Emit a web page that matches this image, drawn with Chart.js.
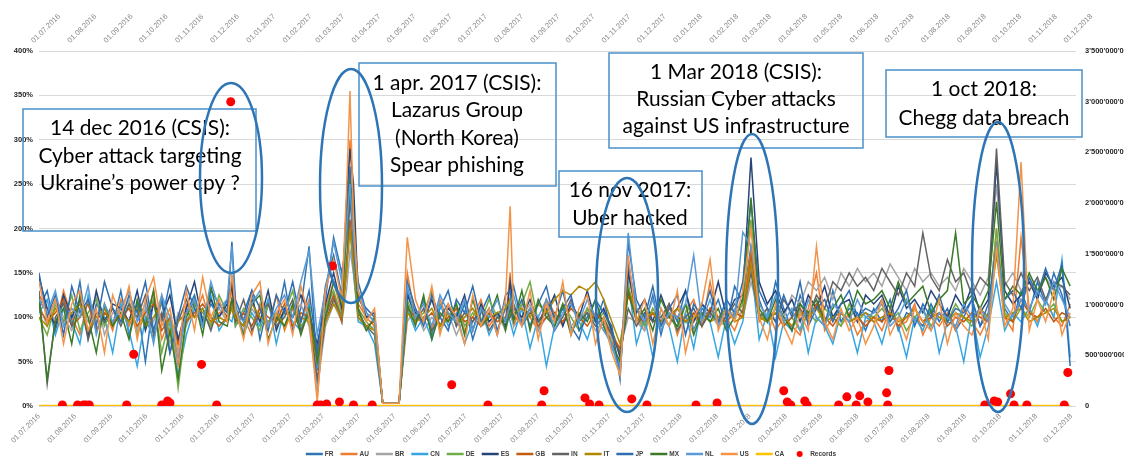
<!DOCTYPE html>
<html>
<head>
<meta charset="utf-8">
<script src="https://cdn.jsdelivr.net/npm/chart.js@4.4.1/dist/chart.umd.min.js"></script>
<style>
  html, body { margin: 0; padding: 0; background: #fff; }
  #wrap { width: 1124px; height: 462px; }
</style>
</head>
<body>
<div id="wrap"><canvas id="chart" width="1124" height="462"></canvas></div>
<script>
// days after 01.07.2016 (weekly readings + a few extra spike days)
const days = [
  0, 7, 14, 21, 28, 35, 42, 49, 56, 63,
  70, 77, 84, 91, 98, 105, 112, 119, 126, 133, 140, 147, 154,
  161, 165, 168, 175, 182, 189, 196, 203, 210, 217, 224, 231,
  238, 245, 252, 259, 263, 266, 269, 273, 280, 287, 294, 301, 308,
  315, 322, 329, 336, 343, 350, 357, 364, 371, 378, 385, 392, 399,
  403, 406, 413, 420, 427, 434, 441, 448, 455, 462, 469, 476, 483, 490, 497,
  504, 511, 518, 525, 532, 539, 546, 553, 560, 567, 574, 581, 588, 595, 602,
  609, 616, 623, 630, 637, 644, 651, 658, 665, 672, 679, 686, 693, 700, 707,
  714, 721, 728, 735, 742, 749, 756, 763, 770, 777, 784, 791, 798, 805, 812,
  819, 826, 833, 840, 847, 854, 861, 868, 875, 882
];

const tickLabels = [
  '01.07.2016', '01.08.2016', '01.09.2016', '01.10.2016', '01.11.2016', '01.12.2016',
  '01.01.2017', '01.02.2017', '01.03.2017', '01.04.2017', '01.05.2017', '01.06.2017',
  '01.07.2017', '01.08.2017', '01.09.2017', '01.10.2017', '01.11.2017', '01.12.2017',
  '01.01.2018', '01.02.2018', '01.03.2018', '01.04.2018', '01.05.2018', '01.06.2018',
  '01.07.2018', '01.08.2018', '01.09.2018', '01.10.2018', '01.11.2018', '01.12.2018'
];

// values in % of normal
const FR = [
  110, 130, 85, 120, 95, 140, 75, 115, 100, 90,
  130, 80, 115, 50, 120, 95, 140, 70, 105, 125, 90, 115, 100,
  120, 140, 90, 105, 130, 75, 115, 95, 140, 85, 110, 180,
  40, 120, 190, 150, 185, 240, 200, 140, 105, 95, 3, 3, 3,
  130, 95, 120, 80, 110, 130, 90, 115, 75, 105, 125, 85, 110,
  120, 135, 95, 110, 85, 120, 100, 130, 90, 75, 110, 95, 120, 80, 40,
  160, 110, 90, 125, 80, 115, 95, 130, 85, 110, 100, 120, 90, 135, 115,
  180, 120, 95, 140, 110, 85, 125, 100, 115, 90, 130, 95, 110, 105, 85,
  110, 95, 120, 85, 105, 100, 90, 115, 95, 110, 85, 100, 120, 90, 105,
  180, 110, 95, 130, 105, 140, 115, 150, 125, 90
];
const AU = [
  125, 110, 90, 130, 100, 80, 120, 95, 110, 85,
  120, 90, 110, 95, 130, 75, 100, 45, 115, 100, 125, 90, 105,
  110, 130, 95, 100, 80, 115, 90, 125, 85, 110, 95, 120,
  10, 110, 140, 105, 200, 300, 230, 115, 100, 90, 3, 3, 3,
  150, 100, 115, 85, 120, 95, 110, 85, 100, 120, 90, 105, 95,
  150, 90, 115, 100, 85, 120, 105, 90, 115, 95, 110, 100, 85, 75, 45,
  150, 100, 85, 110, 95, 115, 80, 105, 120, 90, 140, 95, 100, 85, 110,
  175, 95, 110, 85, 100, 90, 80, 110, 150, 85, 100, 90, 105, 80, 95,
  100, 85, 110, 90, 95, 115, 80, 100, 90, 105, 85, 110, 95, 80, 100,
  200, 100, 85, 190, 110, 95, 120, 100, 90, 115
];
const BR = [
  115, 90, 120, 100, 85, 110, 95, 125, 80, 105,
  100, 120, 85, 110, 95, 125, 70, 105, 90, 115, 100, 95, 110,
  95, 115, 100, 85, 110, 95, 120, 90, 105, 100, 115, 90,
  20, 90, 115, 95, 130, 175, 150, 100, 85, 90, 3, 3, 3,
  95, 110, 85, 100, 90, 105, 80, 100, 110, 90, 95, 105, 85,
  105, 90, 100, 115, 85, 100, 95, 110, 90, 100, 105, 85, 95, 75, 65,
  100, 95, 85, 105, 100, 90, 110, 95, 85, 100, 105, 90, 95, 110, 100,
  140, 105, 95, 110, 100, 125, 115, 140, 130, 145, 120, 150, 135, 155, 140,
  150, 135, 160, 145, 130, 155, 140, 150, 135, 145, 130, 155, 140, 125, 145,
  250, 135, 150, 130, 140, 125, 145, 130, 135, 120
];
const CN = [
  105, 120, 80, 110, 95, 70, 125, 85, 100, 60,
  115, 85, 45, 100, 75, 120, 90, 35, 80, 110, 95, 125, 85,
  100, 95, 115, 80, 105, 90, 120, 70, 110, 95, 85, 115,
  45, 105, 125, 95, 160, 200, 150, 95, 90, 70, 3, 3, 3,
  110, 85, 100, 75, 115, 90, 105, 70, 95, 110, 80, 100, 115,
  95, 80, 110, 65, 100, 45, 90, 110, 85, 95, 75, 105, 90, 65, 45,
  140, 70, 100, 55, 110, 90, 50, 105, 65, 115, 95, 55, 100, 70, 95,
  160, 75, 105, 55, 95, 85, 110, 60, 100, 90, 70, 105, 95, 60, 100,
  95, 70, 105, 90, 55, 100, 85, 110, 60, 95, 90, 50, 105, 55, 90,
  140, 85, 105, 95, 110, 90, 120, 100, 165, 55
];
const DE = [
  100, 80, 115, 95, 125, 85, 105, 120, 90, 110,
  95, 115, 80, 105, 120, 60, 100, 20, 95, 115, 105, 90, 125,
  105, 120, 90, 110, 100, 85, 115, 95, 105, 130, 90, 100,
  55, 110, 130, 100, 190, 260, 200, 110, 95, 85, 3, 3, 3,
  120, 95, 105, 130, 85, 100, 115, 90, 105, 95, 120, 100, 90,
  120, 100, 115, 140, 95, 105, 90, 115, 100, 85, 110, 95, 105, 85, 60,
  135, 100, 90, 110, 95, 105, 85, 115, 100, 90, 110, 95, 105, 100, 115,
  210, 105, 95, 110, 90, 100, 85, 105, 95, 110, 100, 90, 115, 95, 105,
  100, 110, 95, 105, 85, 100, 110, 90, 105, 95, 115, 100, 90, 105, 95,
  200, 105, 95, 110, 100, 120, 105, 115, 95, 100
];
const ES = [
  145, 110, 90, 125, 100, 120, 80, 130, 95, 115,
  110, 95, 130, 85, 115, 100, 125, 75, 110, 140, 95, 120, 100,
  115, 135, 100, 90, 120, 95, 130, 85, 110, 100, 125, 105,
  70, 115, 150, 110, 230, 290, 250, 125, 100, 105, 3, 3, 3,
  125, 105, 95, 120, 90, 110, 100, 125, 85, 115, 95, 105, 90,
  140, 110, 100, 120, 95, 105, 125, 90, 115, 100, 130, 95, 110, 85, 55,
  150, 105, 120, 95, 125, 100, 110, 130, 95, 115, 105, 140, 100, 120, 125,
  280, 140, 115, 130, 105, 120, 95, 125, 110, 135, 100, 115, 120, 95, 125,
  115, 125, 100, 135, 110, 120, 105, 130, 115, 100, 125, 110, 135, 105, 120,
  275, 130, 115, 125, 140, 120, 150, 135, 145, 110
];
const GB = [
  110, 95, 105, 120, 90, 100, 115, 85, 105, 95,
  100, 110, 90, 105, 115, 85, 100, 70, 95, 105, 115, 100, 90,
  100, 120, 95, 105, 90, 110, 100, 95, 115, 90, 105, 100,
  60, 100, 125, 95, 160, 210, 170, 100, 90, 95, 3, 3, 3,
  110, 100, 95, 105, 90, 100, 110, 95, 100, 90, 105, 95, 100,
  115, 100, 95, 110, 90, 100, 105, 95, 110, 100, 90, 105, 95, 80, 65,
  125, 100, 95, 105, 90, 110, 100, 95, 105, 90, 110, 100, 95, 105, 100,
  170, 100, 95, 105, 90, 100, 110, 95, 115, 100, 90, 105, 95, 100, 90,
  100, 95, 105, 90, 100, 110, 95, 100, 105, 90, 100, 95, 105, 100, 95,
  180, 100, 95, 120, 105, 100, 110, 95, 105, 100
];
const IN = [
  130, 25, 100, 115, 90, 120, 75, 105, 95, 110,
  90, 115, 100, 125, 80, 105, 60, 95, 120, 100, 110, 85, 115,
  100, 110, 95, 120, 85, 105, 115, 90, 100, 120, 85, 105,
  30, 95, 120, 100, 150, 235, 180, 105, 90, 80, 3, 3, 3,
  105, 95, 110, 85, 100, 115, 90, 105, 95, 110, 85, 100, 95,
  100, 115, 90, 105, 95, 110, 85, 100, 120, 95, 105, 90, 100, 80, 60,
  110, 90, 105, 95, 100, 115, 85, 100, 110, 90, 105, 95, 100, 115, 105,
  150, 100, 110, 95, 120, 105, 115, 100, 125, 110, 140, 130, 150, 135, 145,
  130, 155, 140, 125, 150, 135, 195, 145, 130, 165, 140, 150, 125, 145, 135,
  290, 140, 125, 150, 130, 145, 120, 140, 135, 125
];
const IT = [
  100, 90, 110, 95, 105, 115, 85, 100, 110, 90,
  105, 95, 110, 90, 100, 115, 80, 95, 105, 100, 110, 95, 100,
  95, 110, 100, 90, 115, 100, 95, 105, 90, 110, 100, 95,
  50, 95, 115, 100, 150, 200, 160, 100, 90, 85, 3, 3, 3,
  105, 95, 100, 110, 90, 105, 95, 100, 110, 95, 100, 105, 110,
  120, 105, 110, 100, 115, 105, 120, 130, 125, 135, 130, 140, 120, 95, 70,
  130, 110, 100, 105, 95, 100, 110, 95, 100, 105, 95, 100, 110, 95, 100,
  160, 100, 95, 105, 100, 90, 105, 100, 110, 95, 100, 105, 95, 100, 105,
  95, 100, 105, 95, 100, 110, 95, 105, 100, 95, 105, 100, 95, 110, 100,
  170, 100, 105, 110, 95, 100, 105, 110, 95, 100
];
const JP = [
  150, 100, 125, 80, 135, 105, 120, 90, 140, 110,
  95, 125, 105, 140, 85, 120, 60, 100, 135, 110, 90, 130, 115,
  105, 185, 120, 95, 130, 110, 85, 125, 105, 140, 95, 130,
  60, 135, 170, 125, 210, 270, 190, 120, 110, 100, 3, 3, 3,
  140, 110, 90, 125, 100, 85, 120, 105, 135, 95, 110, 80, 125,
  130, 100, 120, 90, 115, 135, 95, 110, 125, 85, 100, 120, 105, 90, 30,
  185, 120, 100, 135, 90, 110, 125, 80, 115, 100, 130, 95, 120, 105, 140,
  230, 130, 110, 95, 125, 100, 140, 90, 110, 120, 95, 115, 130, 100, 110,
  105, 120, 95, 110, 130, 90, 115, 100, 125, 95, 110, 105, 120, 90, 115,
  180, 120, 130, 110, 145, 125, 155, 130, 160, 45
];
const MX = [
  120, 30, 95, 110, 70, 125, 100, 60, 115, 90,
  105, 75, 120, 90, 130, 40, 85, 30, 100, 120, 80, 135, 95,
  90, 120, 105, 80, 115, 125, 75, 100, 90, 115, 80, 110,
  50, 100, 140, 115, 200, 250, 220, 110, 85, 100, 3, 3, 3,
  115, 90, 125, 75, 105, 95, 115, 80, 120, 90, 100, 125, 85,
  110, 95, 130, 85, 120, 100, 90, 115, 80, 105, 95, 120, 90, 70, 50,
  130, 95, 110, 85, 120, 100, 90, 115, 80, 105, 95, 110, 85, 100, 120,
  235, 110, 95, 120, 100, 85, 115, 105, 120, 95, 110, 125, 100, 130, 115,
  120, 130, 110, 140, 115, 125, 135, 105, 120, 130, 195, 115, 125, 110, 130,
  230, 120, 135, 125, 150, 130, 145, 120, 155, 135
];
const NL = [
  120, 105, 130, 90, 110, 100, 135, 80, 115, 95,
  110, 130, 95, 115, 70, 125, 100, 55, 105, 120, 90, 140, 110,
  120, 180, 105, 95, 115, 130, 90, 110, 125, 100, 140, 175,
  80, 130, 185, 140, 200, 250, 190, 130, 105, 95, 3, 3, 3,
  135, 100, 115, 90, 125, 105, 95, 120, 85, 110, 100, 120, 95,
  115, 125, 90, 110, 100, 120, 85, 105, 115, 95, 120, 100, 85, 70, 35,
  195, 110, 95, 120, 85, 105, 100, 115, 170, 95, 120, 90, 110, 100, 196,
  180, 115, 100, 125, 95, 110, 85, 120, 100, 90, 115, 105, 95, 120, 100,
  105, 115, 90, 100, 120, 95, 110, 85, 105, 100, 90, 115, 100, 110, 95,
  180, 115, 100, 120, 110, 130, 115, 140, 120, 100
];
const US = [
  140, 95, 120, 70, 115, 130, 85, 110, 60, 125,
  100, 135, 75, 120, 145, 90, 110, 60, 130, 85, 145, 100, 120,
  95, 150, 110, 75, 125, 140, 70, 105, 120, 80, 135, 100,
  5, 130, 165, 120, 240, 355, 210, 130, 95, 110, 3, 3, 3,
  190, 120, 95, 135, 80, 115, 100, 70, 125, 90, 110, 80, 120,
  225, 105, 90, 130, 75, 115, 95, 140, 80, 110, 125, 70, 100, 60, 35,
  170, 95, 120, 70, 110, 90, 130, 60, 100, 115, 165, 85, 110, 95, 130,
  200, 100, 75, 115, 90, 70, 105, 85, 180, 95, 75, 110, 85, 100, 70,
  90, 120, 80, 100, 75, 110, 95, 85, 120, 70, 105, 90, 80, 110, 75,
  180, 90, 110, 275, 85, 120, 95, 130, 80, 105
];
const CA = [
  0, 0, 0, 0, 0, 0, 0, 0, 0, 0,
  0, 0, 0, 0, 0, 0, 0, 0, 0, 0, 0, 0, 0,
  0, 0, 0, 0, 0, 0, 0, 0, 0, 0, 0, 0,
  0, 0, 0, 0, 0, 0, 0, 0, 0, 0, 0, 0, 0,
  0, 0, 0, 0, 0, 0, 0, 0, 0, 0, 0, 0, 0,
  0, 0, 0, 0, 0, 0, 0, 0, 0, 0, 0, 0, 0, 0, 0,
  0, 0, 0, 0, 0, 0, 0, 0, 0, 0, 0, 0, 0, 0, 0,
  0, 0, 0, 0, 0, 0, 0, 0, 0, 0, 0, 0, 0, 0, 0,
  0, 0, 0, 0, 0, 0, 0, 0, 0, 0, 0, 0, 0, 0, 0,
  0, 0, 0, 0, 0, 0, 0, 0, 0, 0
];

// breached records (right axis)
const recordDays = [
  20, 33, 38, 40, 43, 75, 81, 105, 110, 112, 139, 152, 164,
  238, 241, 246, 251, 257, 269, 285, 353, 384, 430, 432, 467, 471, 479,
  507, 520, 562, 580, 637, 640, 643, 655, 657, 684, 691, 699, 702, 709,
  725, 726, 727, 809, 817, 820, 831, 834, 845, 877, 880
];
const recordValues = [
  1e7, 1e7, 1e7, 1e7, 1e7, 1e7, 5.1e8, 1e7, 5e7, 3e7, 4.1e8, 1e7, 3.0e9,
  1e7, 1e7, 2e7, 1.38e9, 4e7, 1e7, 1e7, 2.1e8, 1e7, 1e7, 1.5e8, 8e7, 2e7, 1e7,
  7e7, 1e7, 1e7, 3e7, 1.5e8, 4e7, 1e7, 5e7, 1e7, 1e7, 9e7, 1e7, 1e8, 4e7,
  1.3e8, 1e7, 3.5e8, 1e7, 5e7, 4e7, 1.2e8, 1e7, 1e7, 1e7, 3.3e8
];

const seriesNames = ['FR', 'AU', 'BR', 'CN', 'DE', 'ES', 'GB', 'IN', 'IT', 'JP', 'MX', 'NL', 'US', 'CA'];
const seriesValues = [FR, AU, BR, CN, DE, ES, GB, IN, IT, JP, MX, NL, US, CA];
const seriesColors = {
  FR: '#2E75B6', AU: '#ED7D31', BR: '#A5A5A5', CN: '#36A6E2', DE: '#70AD47', ES: '#264478',
  GB: '#C55A11', IN: '#636363', IT: '#B08800', JP: '#2F6DB0', MX: '#3A7A28', NL: '#5B9BD5',
  US: '#F39449', CA: '#FFC000'
};

const start = Date.UTC(2016, 6, 1);
function dayOf(label) {
  const [d, m, y] = label.split('.').map(Number);
  return Math.round((Date.UTC(y, m - 1, d) - start) / 86400000);
}
const tickDays = tickLabels.map(dayOf);

// annotation boxes and rings (pixel layout)
const notes = [
  { box: [23, 109, 233, 122], cx: 140, base: 135, step: 27.5, lines: ['14 dec 2016 (CSIS):', 'Cyber attack targeting', 'Ukraine\u2019s power cpy ?'] },
  { box: [359, 63, 197, 123], cx: 457, base: 90, step: 27.3, lines: ['1 apr. 2017 (CSIS):', 'Lazarus Group', '(North Korea)', 'Spear phishing'] },
  { box: [559, 171, 143, 66], cx: 630, base: 197, step: 28, lines: ['16 nov 2017:', 'Uber hacked'] },
  { box: [609, 53, 254, 95], cx: 736, base: 79, step: 27, lines: ['1 Mar 2018 (CSIS):', 'Russian Cyber attacks', 'against US infrastructure'] },
  { box: [886, 70, 196, 67], cx: 984, base: 96, step: 29, lines: ['1 oct 2018:', 'Chegg data breach'] }
];
const rings = [
  [231, 178, 31, 95], [351, 186, 31, 117], [627, 295, 31, 117], [752, 279, 26, 145], [998, 267, 26, 145]
];

const notesPlugin = {
  id: 'notes',
  afterDatasetsDraw(chart) {
    const ctx = chart.ctx;
    ctx.save();
    ctx.font = '20px Lato';
    const size = 20 * 203 / ctx.measureText('Cyber attack targeting').width;
    ctx.font = size.toFixed(1) + 'px Lato, "Open Sans", sans-serif';
    ctx.textAlign = 'center';
    ctx.textBaseline = 'alphabetic';
    notes.forEach(n => {
      ctx.strokeStyle = '#4A90CC';
      ctx.lineWidth = 1.5;
      ctx.strokeRect(n.box[0], n.box[1], n.box[2], n.box[3]);
      ctx.fillStyle = '#000';
      n.lines.forEach((t, i) => ctx.fillText(t, n.cx, n.base + i * n.step));
    });
    ctx.strokeStyle = '#2E75B6';
    ctx.lineWidth = 2.5;
    rings.forEach(r => {
      ctx.beginPath();
      ctx.ellipse(r[0], r[1], r[2], r[3], 0, 0, Math.PI * 2);
      ctx.stroke();
    });
    ctx.restore();
  }
};

const legendPlugin = {
  id: 'bottomLegend',
  afterDraw(chart) {
    const ctx = chart.ctx;
    ctx.save();
    ctx.font = 'bold 6.5px "Liberation Sans", Arial, sans-serif';
    ctx.textBaseline = 'middle';
    ctx.textAlign = 'left';
    const items = chart.data.datasets.map(d => ({ label: d.label, color: d.borderColor || d.backgroundColor, dot: d.type === 'scatter' }));
    const symW = 17, gap = 2, after = 7;
    const total = items.reduce((s, it) => s + symW + gap + ctx.measureText(it.label).width + after, 0) - after;
    let x = 571 - total / 2;
    const y = 454;
    items.forEach(it => {
      if (it.dot) {
        ctx.fillStyle = it.color;
        ctx.beginPath();
        ctx.arc(x + symW / 2, y, 3, 0, Math.PI * 2);
        ctx.fill();
      } else {
        ctx.strokeStyle = it.color;
        ctx.lineWidth = 2.5;
        ctx.beginPath();
        ctx.moveTo(x, y);
        ctx.lineTo(x + symW, y);
        ctx.stroke();
      }
      ctx.fillStyle = '#404040';
      ctx.fillText(it.label, x + symW + gap, y);
      x += symW + gap + ctx.measureText(it.label).width + after;
    });
    ctx.restore();
  }
};

const datasets = seriesNames.map((name, i) => ({
  label: name,
  data: seriesValues[i].map((v, k) => ({ x: days[k], y: v })),
  borderColor: seriesColors[name],
  backgroundColor: seriesColors[name],
  borderWidth: name === 'CA' ? 2.5 : 1.5,
  pointRadius: 0,
  tension: 0,
  xAxisID: 'x',
  yAxisID: 'y',
  order: 20 - i
}));
datasets.push({
  type: 'scatter',
  label: 'Records',
  data: recordDays.map((d, k) => ({ x: d, y: recordValues[k] })),
  backgroundColor: '#FF0000',
  borderColor: '#FF0000',
  borderWidth: 0,
  pointRadius: 4.5,
  xAxisID: 'x',
  yAxisID: 'y2',
  order: 0
});

Chart.defaults.font.family = '"Liberation Sans", Arial, sans-serif';

function dateAxis(position, height) {
  return {
    type: 'linear',
    position: position,
    min: 0,
    max: 887,
    grid: { display: false, drawTicks: false },
    border: { display: false },
    afterBuildTicks: s => { s.ticks = tickDays.map(v => ({ value: v })); },
    afterFit: s => { s.height = height; },
    ticks: {
      autoSkip: false,
      minRotation: 45,
      maxRotation: 45,
      padding: 6,
      color: '#8A8A8A',
      font: { size: 7.5 },
      callback: (v, i) => tickLabels[i]
    }
  };
}

new Chart(document.getElementById('chart'), {
  type: 'line',
  data: { datasets: datasets },
  options: {
    responsive: false,
    animation: false,
    layout: { padding: 0 },
    plugins: { legend: { display: false }, tooltip: { enabled: false } },
    scales: {
      x: dateAxis('bottom', 56),
      x2: dateAxis('top', 51),
      y: {
        position: 'left',
        min: 0,
        max: 400,
        grid: { color: '#D9D9D9', drawTicks: false },
        border: { display: false },
        afterFit: s => { s.width = 39; },
        ticks: {
          stepSize: 50,
          padding: 6,
          color: '#262626',
          font: { size: 7.5, weight: 'bold' },
          callback: v => v + '%'
        }
      },
      y2: {
        position: 'right',
        min: 0,
        max: 3.5e9,
        grid: { display: false, drawTicks: false },
        border: { display: false },
        afterFit: s => { s.width = 48; },
        ticks: {
          stepSize: 5e8,
          padding: 9,
          color: '#262626',
          font: { size: 7.5, weight: 'bold' },
          callback: v => String(v).replace(/\B(?=(\d{3})+(?!\d))/g, "'")
        }
      }
    }
  },
  plugins: [notesPlugin, legendPlugin]
});
</script>
</body>
</html>
